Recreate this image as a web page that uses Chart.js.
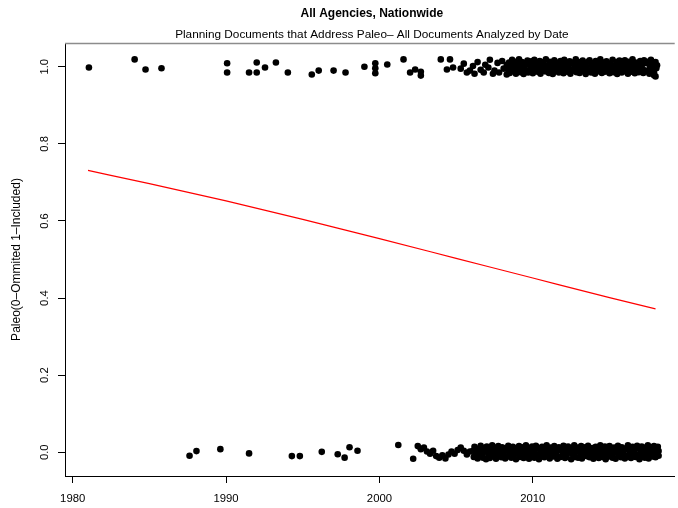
<!DOCTYPE html>
<html><head><meta charset="utf-8">
<script src="https://cdn.jsdelivr.net/npm/chart.js@4/dist/chart.umd.min.js"></script>
<style>html,body{margin:0;padding:0;background:#fff}canvas{display:block}</style>
</head><body>
<canvas id="c" width="678" height="508"></canvas>
<script>
const chartTitle = "All Agencies, Nationwide";
const chartSubtitle = "Planning Documents that Address Paleo\u2013 All Documents Analyzed by Date";
const yAxisTitle = "Paleo(0\u2013Ommited 1\u2013Included)";
const xTickLabels = [1980, 1990, 2000, 2010];
const yTickLabels = [0.0, 0.2, 0.4, 0.6, 0.8, 1.0];

// Documents that include paleo (jittered around 1)
const includedPoints = [
[1981.06,0.998],[1984.04,1.019],[1984.75,0.993],[1985.79,0.996],[1990.07,1.009],[1990.07,0.985],
[1991.5,0.985],[1992.0,1.011],[1992.0,0.985],[1992.54,0.998],[1993.25,1.011],[1994.03,0.985],
[1995.59,0.980],[1996.04,0.990],[1997.01,0.990],[1997.79,0.985],[1999.02,1.000],[1999.73,1.009],
[1999.73,0.996],[1999.73,0.983],[2000.51,1.006],[2001.57,1.019],[2002.0,0.985],[2002.33,0.993],
[2002.7,0.987],[2002.7,0.977],[2004.0,1.019],[2004.6,1.019],[2004.4,0.993],[2004.8,0.998],
[2005.3,0.995],[2005.5,1.008],[2005.7,0.985],[2005.9,0.99],[2006.1,1.002],[2006.2,0.982],[2006.4,1.012],
[2006.6,0.992],[2006.8,0.985],[2006.9,1.005],[2007.1,0.998],[2007.2,1.018],[2007.4,0.982],[2007.5,0.99],
[2007.7,1.01],[2007.8,0.985],[2008.0,1.015],[2008.1,0.995],[2008.3,0.98],[2008.3,1.005],
[2008.4,0.992],[2008.45,1.011],[2008.5,0.984],[2008.6,1.004],[2008.65,1.018],[2008.7,0.989],[2008.8,0.998],[2008.85,1.013],[2008.9,0.982],[2009.0,1.007],
[2009.05,0.994],[2009.1,1.019],[2009.2,0.986],[2009.25,1.002],[2009.3,1.012],[2009.4,0.981],[2009.45,0.997],[2009.5,1.009],[2009.6,0.99],[2009.65,1.016],
[2009.7,0.985],[2009.8,1.005],[2009.85,0.995],[2009.9,1.014],[2010.0,0.983],[2010.05,1.001],[2010.1,1.018],[2010.2,0.991],[2010.25,1.008],[2010.3,0.987],
[2010.4,0.999],[2010.45,1.015],[2010.5,0.982],[2010.6,1.006],[2010.65,0.993],[2010.7,1.012],[2010.8,0.988],[2010.85,1.019],[2010.9,0.996],[2011.0,1.003],
[2011.05,0.984],[2011.1,1.013],[2011.2,0.992],[2011.25,1.007],[2011.3,0.981],[2011.4,1.017],[2011.45,0.998],[2011.5,0.989],[2011.6,1.01],[2011.65,1.002],
[2011.7,0.985],[2011.8,1.015],[2011.85,0.994],[2011.9,1.006],[2012.0,0.983],[2012.05,1.018],[2012.1,0.997],[2012.2,1.009],[2012.25,0.987],[2012.3,1.001],
[2012.4,1.014],[2012.45,0.982],[2012.5,0.993],[2012.6,1.011],[2012.65,0.99],[2012.7,1.004],[2012.8,1.019],[2012.85,0.986],[2012.9,0.999],[2013.0,1.012],
[2013.05,0.984],[2013.1,1.005],[2013.2,0.995],[2013.25,1.016],[2013.3,0.988],[2013.4,1.008],[2013.45,0.981],[2013.5,1.0],[2013.6,1.013],[2013.65,0.991],
[2013.7,1.017],[2013.8,0.985],[2013.85,1.003],[2013.9,0.994],[2014.0,1.01],[2014.05,0.982],[2014.1,1.015],[2014.2,0.998],[2014.25,0.988],[2014.3,1.006],
[2014.4,1.019],[2014.45,0.992],[2014.5,0.984],[2014.6,1.011],[2014.65,1.001],[2014.7,0.987],[2014.8,1.014],[2014.85,0.996],[2014.9,1.004],[2015.0,0.983],
[2015.05,1.009],[2015.1,0.993],[2015.2,1.018],[2015.25,0.986],[2015.3,1.002],[2015.4,0.99],[2015.45,1.012],[2015.5,0.981],[2015.6,0.997],[2015.65,1.016],
[2015.7,1.005],[2015.8,0.985],[2015.85,1.01],[2015.9,0.994],[2016.0,1.017],[2016.05,0.988],[2016.1,1.003],[2016.2,0.982],[2016.25,1.013],[2016.3,0.995],
[2016.4,1.008],[2016.45,0.987],[2016.5,1.019],[2016.6,0.999],[2016.65,0.983],[2016.7,1.011],[2016.8,0.992],[2016.85,1.006],[2016.9,0.986],[2017.0,1.015],
[2017.05,0.997],[2017.1,1.002],[2017.2,0.984],[2017.25,1.017],[2017.3,0.991],[2017.4,1.009],[2017.45,0.988],[2017.5,1.013],[2017.6,0.982],[2017.65,1.0],
[2017.7,1.018],[2017.8,0.993],[2017.85,1.007],[2017.9,0.985],[2018.0,1.012],[2018.05,0.996],[2018.1,1.004],[2018.0,0.975],[2017.9,0.978]
];

// Documents that omit paleo (jittered around 0)
const omittedPoints = [
[1987.62,-0.009],[1988.07,0.003],[1989.63,0.008],[1991.5,-0.003],[1994.29,-0.010],[1994.81,-0.010],
[1996.24,0.001],[1997.28,-0.005],[1997.73,-0.014],[1998.05,0.013],[1998.57,0.004],[2001.23,0.019],
[2002.2,-0.017],[2002.5,0.016],[2002.7,0.008],[2002.9,0.012],[2003.1,0.002],[2003.3,-0.004],[2003.5,0.004],
[2003.7,-0.01],[2003.9,-0.014],[2004.1,-0.008],[2004.3,-0.016],[2004.5,-0.006],[2004.7,0.002],[2004.9,-0.004],
[2005.1,0.006],[2005.3,0.012],[2005.5,0.004],[2005.7,-0.006],[2005.9,0.002],
[2006.1,0.004],[2006.15,-0.012],[2006.2,0.014],[2006.3,-0.003],[2006.35,0.009],[2006.4,-0.016],[2006.5,0.006],[2006.55,-0.008],[2006.6,0.017],[2006.7,-0.001],
[2006.75,-0.014],[2006.8,0.011],[2006.9,0.002],[2006.95,-0.018],[2007.0,0.015],[2007.1,-0.006],[2007.15,0.008],[2007.2,-0.015],[2007.3,0.003],[2007.35,0.018],
[2007.4,-0.01],[2007.5,0.012],[2007.55,-0.002],[2007.6,-0.017],[2007.7,0.007],[2007.75,0.016],[2007.8,-0.009],[2007.9,0.001],[2007.95,-0.013],[2008.0,0.013],
[2008.1,-0.004],[2008.15,0.01],[2008.2,-0.016],[2008.3,0.005],[2008.35,-0.011],[2008.4,0.017],[2008.5,-0.001],[2008.55,0.008],[2008.6,-0.014],[2008.7,0.014],
[2008.75,-0.007],[2008.8,0.002],[2008.9,-0.018],[2008.95,0.011],[2009.0,-0.003],[2009.1,0.016],[2009.15,-0.012],[2009.2,0.006],[2009.3,-0.008],[2009.35,0.013],
[2009.4,-0.015],[2009.5,0.0],[2009.55,0.018],[2009.6,-0.005],[2009.7,0.009],[2009.75,-0.017],[2009.8,0.004],[2009.9,-0.01],[2009.95,0.015],[2010.0,-0.002],
[2010.1,-0.014],[2010.15,0.007],[2010.2,0.017],[2010.3,-0.006],[2010.35,0.011],[2010.4,-0.018],[2010.5,0.003],[2010.55,-0.009],[2010.6,0.014],[2010.7,-0.001],
[2010.75,-0.013],[2010.8,0.01],[2010.9,0.018],[2010.95,-0.007],[2011.0,0.005],[2011.1,-0.016],[2011.15,0.012],[2011.2,-0.004],[2011.3,0.008],[2011.35,-0.011],
[2011.4,0.016],[2011.5,-0.008],[2011.55,0.001],[2011.6,-0.017],[2011.7,0.013],[2011.75,0.006],[2011.8,-0.012],[2011.9,0.009],[2011.95,-0.003],[2012.0,0.017],
[2012.1,-0.015],[2012.15,0.004],[2012.2,-0.009],[2012.3,0.015],[2012.35,-0.001],[2012.4,0.01],[2012.5,-0.018],[2012.55,0.007],[2012.6,-0.005],[2012.7,0.018],
[2012.75,-0.012],[2012.8,0.002],[2012.9,0.012],[2012.95,-0.014],[2013.0,0.005],[2013.1,-0.007],[2013.15,0.016],[2013.2,-0.016],[2013.3,0.008],[2013.35,-0.003],
[2013.4,0.013],[2013.5,-0.01],[2013.55,0.001],[2013.6,0.017],[2013.7,-0.013],[2013.75,0.006],[2013.8,-0.006],[2013.9,0.011],[2013.95,-0.017],[2014.0,0.003],
[2014.1,0.014],[2014.15,-0.009],[2014.2,0.0],[2014.3,-0.015],[2014.35,0.01],[2014.4,0.018],[2014.5,-0.004],[2014.55,-0.012],[2014.6,0.007],[2014.7,0.015],
[2014.75,-0.018],[2014.8,-0.002],[2014.9,0.009],[2014.95,-0.011],[2015.0,0.016],[2015.1,-0.006],[2015.15,0.004],[2015.2,-0.014],[2015.3,0.012],[2015.35,-0.001],
[2015.4,-0.017],[2015.5,0.008],[2015.55,0.017],[2015.6,-0.008],[2015.7,0.002],[2015.75,-0.013],[2015.8,0.013],[2015.9,-0.004],[2015.95,0.006],[2016.0,-0.016],
[2016.1,0.01],[2016.15,-0.01],[2016.2,0.018],[2016.3,-0.003],[2016.35,0.005],[2016.4,-0.015],[2016.5,0.014],[2016.55,-0.007],[2016.6,0.001],[2016.7,-0.012],
[2016.75,0.011],[2016.8,0.017],[2016.9,-0.005],[2016.95,-0.018],[2017.0,0.007],[2017.1,0.015],[2017.15,-0.009],[2017.2,0.003],[2017.3,-0.014],[2017.35,0.012],
[2017.4,-0.002],[2017.5,0.018],[2017.55,-0.016],[2017.6,0.006],[2017.7,-0.007],[2017.75,0.01],[2017.8,-0.011],[2017.9,0.016],[2017.95,0.0],[2018.0,-0.013],
[2018.05,0.009],[2018.1,-0.004],[2018.15,0.014],[2018.2,-0.009],[2018.2,0.003]
];

// Fitted trend (red line)
const trendYears = [1981, 1985, 1990, 1995, 2000, 2005, 2010, 2015, 2018];
const trendValues = [0.731, 0.697, 0.652, 0.604, 0.554, 0.503, 0.452, 0.401, 0.372];

const FONT = '"Liberation Sans", Arial, Helvetica, sans-serif';

const decor = {
  id: 'decor',
  afterDraw(chart) {
    const ctx = chart.ctx, a = chart.chartArea, ys = chart.scales.y;
    ctx.save();
    // top box edge
    ctx.strokeStyle = '#8c8c8c';
    ctx.lineWidth = 1.5;
    ctx.beginPath(); ctx.moveTo(a.left, a.top + 0.5); ctx.lineTo(a.right, a.top + 0.5); ctx.stroke();
    const cx = (a.left + a.right + 4) / 2;
    ctx.fillStyle = '#000';
    ctx.textAlign = 'center';
    ctx.textBaseline = 'middle';
    ctx.font = 'bold 12px ' + FONT;
    ctx.fillText(chartTitle, cx, 14);
    ctx.font = '11.8px ' + FONT;
    ctx.fillText(chartSubtitle, cx, 35);
    // rotated y tick labels
    ctx.font = '11.3px ' + FONT;
    yTickLabels.forEach(v => {
      const py = ys.getPixelForValue(v);
      ctx.save();
      ctx.translate(45, py);
      ctx.rotate(-Math.PI / 2);
      ctx.fillText(v.toFixed(1), 0, 0);
      ctx.restore();
    });
    // y axis title
    ctx.font = '12px ' + FONT;
    ctx.save();
    ctx.translate(17, (a.top + a.bottom) / 2);
    ctx.rotate(-Math.PI / 2);
    ctx.fillText(yAxisTitle, 0, 0);
    ctx.restore();
    ctx.restore();
  }
};

new Chart(document.getElementById('c'), {
  type: 'scatter',
  data: {
    datasets: [
      { label: 'Included', data: includedPoints.map(p => ({x: p[0], y: p[1]})),
        pointRadius: 3.3, pointBackgroundColor: '#000', pointBorderWidth: 0, pointHoverRadius: 3.3 },
      { label: 'Omitted', data: omittedPoints.map(p => ({x: p[0], y: p[1]})),
        pointRadius: 3.3, pointBackgroundColor: '#000', pointBorderWidth: 0, pointHoverRadius: 3.3 },
      { type: 'line', label: 'Trend', data: trendYears.map((x, i) => ({x, y: trendValues[i]})),
        borderColor: '#ff0000', borderWidth: 1.2, pointRadius: 0, fill: false, tension: 0.4, cubicInterpolationMode: 'monotone' }
    ]
  },
  options: {
    responsive: false,
    devicePixelRatio: 1,
    animation: false,
    events: [],
    layout: { padding: { top: 43, left: 0, right: 0, bottom: 0 } },
    plugins: { legend: { display: false }, tooltip: { enabled: false }, title: { display: false } },
    scales: {
      x: {
        type: 'linear', min: 1979.5, max: 2019.25,
        afterBuildTicks: s => { s.ticks = xTickLabels.map(v => ({ value: v })); },
        afterFit: s => { s.height = 32; },
        grid: { drawOnChartArea: false, drawTicks: true, tickLength: 7, tickColor: '#000', tickWidth: 1 },
        border: { display: true, color: '#000', width: 1 },
        ticks: { color: '#000', font: { family: FONT, size: 11.3 }, padding: 9, maxRotation: 0, autoSkip: false,
                 callback: v => String(v) }
      },
      y: {
        type: 'linear', min: -0.0616, max: 1.0616,
        afterBuildTicks: s => { s.ticks = yTickLabels.map(v => ({ value: v })); },
        afterFit: s => { s.width = 65; },
        grid: { drawOnChartArea: false, drawTicks: true, tickLength: 7, tickColor: '#000', tickWidth: 1 },
        border: { display: true, color: '#000', width: 1 },
        ticks: { display: false }
      }
    }
  },
  plugins: [decor]
});
</script>
</body></html>
